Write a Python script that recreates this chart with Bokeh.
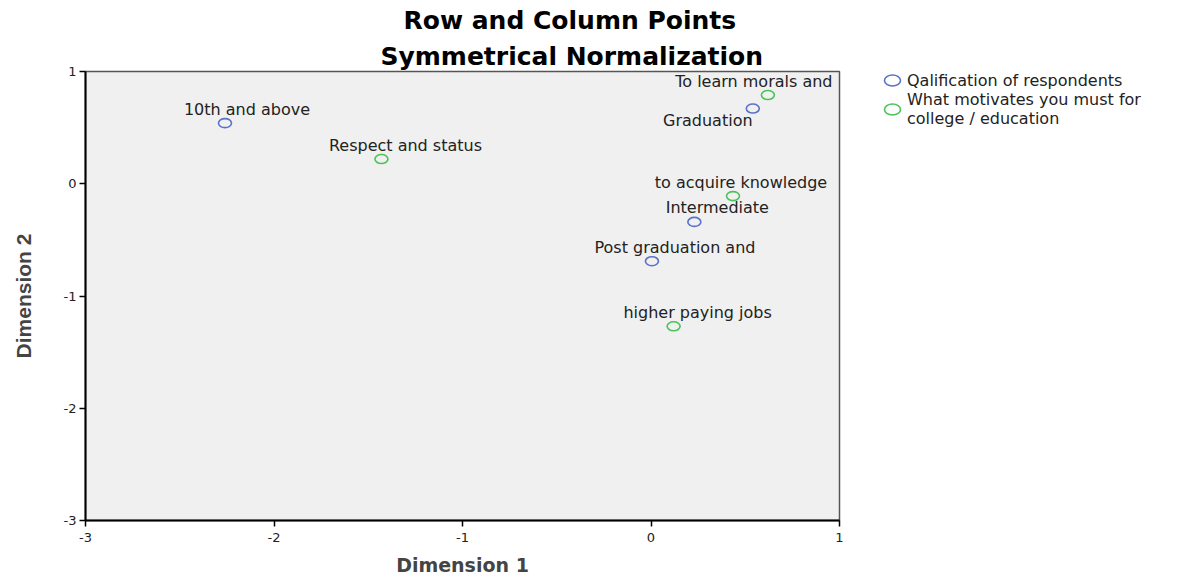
from bokeh.plotting import figure
from bokeh.models import ColumnDataSource, Legend, LegendItem, FixedTicker, Title
from bokeh.core.properties import value
from bokeh.embed import file_html
from bokeh.resources import INLINE

# Row points: Qualification of respondents
row_labels = ["10th and above", "Graduation", "Intermediate", "Post graduation and"]
row_x = [-2.26, 0.54, 0.23, 0.005]
row_y = [0.54, 0.67, -0.34, -0.69]

# Column points: What motivates you
col_labels = ["Respect and status", "To learn morals and", "to acquire knowledge", "higher paying jobs"]
col_x = [-1.43, 0.62, 0.435, 0.12]
col_y = [0.22, 0.79, -0.11, -1.27]

x_ticks = [-3, -2, -1, 0, 1]
y_ticks = [-3, -2, -1, 0, 1]
tick_text = {t: str(t) for t in x_ticks}

series_names = ["Qalification of respondents", "What motivates you must for\ncollege / education"]

# label offsets in pixels (style)
row_dx = [22, -45, 23, 23]
row_dy = [-14, 12, -14, -14]
col_dx = [24, -14, 8, 24]
col_dy = [-14, -14, -14, -14]

FONT = "DejaVu Sans"
BLUE = "#5a72c8"
GREEN = "#4cc35a"

p = figure(frame_width=754, frame_height=449, x_range=(-3, 1), y_range=(-3, 1),
           output_backend="svg", toolbar_location=None,
           min_border_left=85, min_border_right=0, min_border_top=67, min_border_bottom=0)
p.background_fill_color = "#f0f0f0"
p.border_fill_color = "white"
p.outline_line_color = "#555555"
p.outline_line_width = 1.5
p.grid.visible = False

for ax in (p.xaxis[0], p.yaxis[0]):
    ax.ticker = FixedTicker(ticks=x_ticks)
    ax.major_label_overrides = tick_text
    ax.axis_line_color = "black"
    ax.axis_line_width = 2
    ax.major_tick_line_color = "black"
    ax.major_tick_line_width = 1.5
    ax.major_tick_in = 0
    ax.major_tick_out = 6
    ax.minor_tick_line_color = None
    ax.major_label_text_font = FONT
    ax.major_label_text_font_size = "13px"
    ax.major_label_text_color = "#222222"
    ax.major_label_standoff = 3

p.xaxis[0].major_label_standoff = 6
p.yaxis[0].ticker = FixedTicker(ticks=y_ticks)
p.xaxis.axis_label = "Dimension 1"
p.xaxis.axis_label_text_font = FONT
p.xaxis.axis_label_text_font_style = "bold"
p.xaxis.axis_label_text_font_size = "19px"
p.xaxis.axis_label_standoff = 9
p.yaxis.axis_label = "Dimension 2"
p.yaxis.axis_label_text_font = "Liberation Sans"
p.yaxis.axis_label_text_font_style = "bold"
p.yaxis.axis_label_text_font_size = "21px"
p.yaxis.axis_label_standoff = 26

row_src = ColumnDataSource(dict(x=row_x, y=row_y, t=row_labels, dx=row_dx, dy=row_dy))
col_src = ColumnDataSource(dict(x=col_x, y=col_y, t=col_labels, dx=col_dx, dy=col_dy))

r1 = p.ellipse(x="x", y="y", width=13, height=9, width_units="screen", height_units="screen",
               source=row_src, fill_color=None, line_color=BLUE, line_width=1.6)
r2 = p.ellipse(x="x", y="y", width=13, height=9, width_units="screen", height_units="screen",
               source=col_src, fill_color=None, line_color=GREEN, line_width=1.6)

for src in (row_src, col_src):
    p.text(x="x", y="y", text="t", x_offset="dx", y_offset="dy", source=src,
           text_font=value(FONT), text_font_size="16px", text_color="#222222",
           text_align="center", text_baseline="middle")

legend = Legend(items=[LegendItem(label=series_names[0], renderers=[r1], index=0),
                       LegendItem(label=series_names[1], renderers=[r2], index=0)],
                location=(40, 392), border_line_color=None, background_fill_alpha=0,
                label_text_font=FONT, label_text_font_size="16px", label_text_color="#222222",
                label_text_line_height=0.76, glyph_width=26, glyph_height=20,
                label_standoff=2, spacing=0, padding=0, margin=0, label_height=14)
p.add_layout(legend, "right")

p.add_layout(Title(text="Symmetrical Normalization", align="left", offset=295,
                   text_font=FONT, text_font_style="bold", text_font_size="25px",
                   text_color="black", standoff=2), "above")
p.add_layout(Title(text="Row and Column Points", align="left", offset=318,
                   text_font=FONT, text_font_style="bold", text_font_size="25px",
                   text_color="black", standoff=7), "above")

open("out.html", "w").write(file_html(p, INLINE))
